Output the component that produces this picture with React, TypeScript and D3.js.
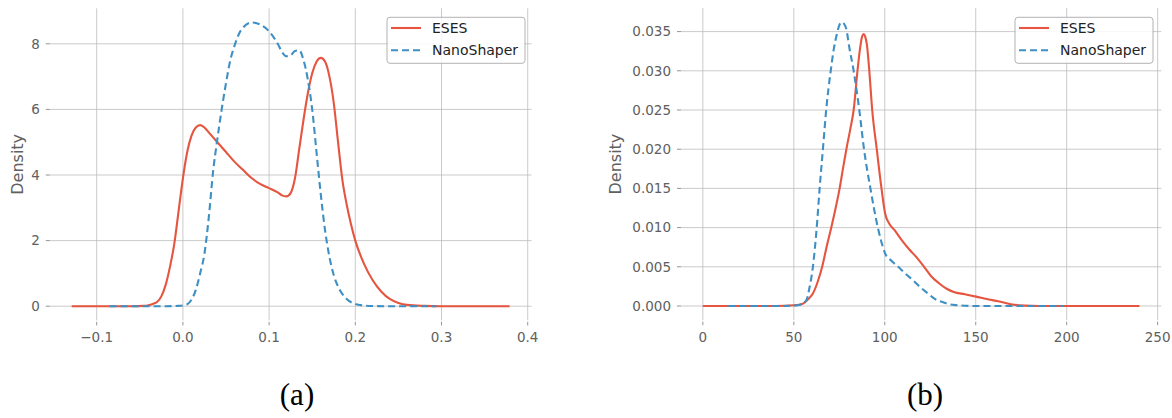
import React from "react";
import * as d3 from "d3";

const W = 1172;
const H = 418;

const seriesNames = ["ESES", "NanoShaper"];
const seriesColors = ["#E5553F", "#3E90C4"];
const seriesDash = [null, "7,4"];

// panel (a): curvature density
const aTicksX = [-0.1, 0, 0.1, 0.2, 0.3, 0.4];
const aTicksY = [0, 2, 4, 6, 8];
const aEsesX = [-0.129, -0.06, -0.045, -0.04, -0.035, -0.03, -0.025, -0.02, -0.015, -0.01, -0.005, 0, 0.005, 0.01, 0.015, 0.02, 0.025, 0.03, 0.04, 0.05, 0.06, 0.07, 0.08, 0.09, 0.1, 0.11, 0.115, 0.12, 0.125, 0.13, 0.135, 0.14, 0.145, 0.15, 0.155, 0.16, 0.165, 0.17, 0.175, 0.18, 0.185, 0.19, 0.195, 0.2, 0.21, 0.22, 0.23, 0.24, 0.25, 0.26, 0.28, 0.3, 0.379];
const aEsesY = [0, 0, 0.01, 0.03, 0.07, 0.13, 0.3, 0.65, 1.2, 1.9, 2.9, 3.9, 4.7, 5.2, 5.45, 5.52, 5.45, 5.3, 5.0, 4.7, 4.4, 4.15, 3.9, 3.72, 3.6, 3.47, 3.38, 3.35, 3.45, 3.9, 4.8, 5.7, 6.5, 7.1, 7.45, 7.57, 7.45, 7.0, 6.2, 5.0, 3.85, 3.1, 2.5, 2.0, 1.3, 0.8, 0.45, 0.22, 0.1, 0.04, 0.01, 0, 0];
const aNanoX = [-0.085, -0.05, -0.02, -0.005, 0.005, 0.01, 0.015, 0.02, 0.025, 0.03, 0.035, 0.04, 0.045, 0.05, 0.055, 0.06, 0.065, 0.07, 0.08, 0.09, 0.1, 0.11, 0.115, 0.12, 0.125, 0.13, 0.135, 0.14, 0.145, 0.15, 0.155, 0.16, 0.165, 0.17, 0.175, 0.18, 0.19, 0.2, 0.21, 0.22, 0.24, 0.294];
const aNanoY = [0, 0, 0, 0.01, 0.06, 0.2, 0.5, 1.0, 1.6, 2.7, 4.1, 5.1, 6.0, 6.8, 7.5, 7.95, 8.3, 8.5, 8.65, 8.58, 8.38, 8.0, 7.75, 7.62, 7.65, 7.78, 7.8, 7.5, 6.9, 6.0, 4.7, 3.4, 2.3, 1.5, 0.95, 0.6, 0.22, 0.07, 0.02, 0.005, 0, 0];

// panel (b): area density
const bTicksX = [0, 50, 100, 150, 200, 250];
const bTicksY = [0, 0.005, 0.01, 0.015, 0.02, 0.025, 0.03, 0.035];
const bEsesX = [0, 40, 50, 55, 58, 60.5, 63, 65.6, 68, 70.7, 73, 75.2, 77, 78.9, 81, 82.9, 85, 86.5, 87.6, 88.4, 89.2, 90.2, 91.5, 93.1, 95.6, 98.2, 100.2, 102.5, 105.3, 109, 113.5, 117.5, 121.6, 125.5, 129.8, 134, 137.9, 144, 150.2, 156, 162.4, 170, 177, 185, 240];
const bEsesY = [0, 0, 0.0001, 0.0003, 0.0009, 0.0016, 0.003, 0.005, 0.0075, 0.0101, 0.0125, 0.015, 0.0175, 0.02, 0.0225, 0.025, 0.03, 0.033, 0.0344, 0.0347, 0.0344, 0.0333, 0.03, 0.025, 0.02, 0.015, 0.0118, 0.0105, 0.0097, 0.0085, 0.0072, 0.0062, 0.005, 0.0038, 0.0029, 0.0022, 0.0018, 0.0015, 0.0012, 0.0009, 0.0006, 0.0002, 0.00005, 0, 0];
const bNanoX = [14, 40, 50, 54, 57, 58.5, 60.5, 62.6, 64.2, 66, 67.8, 70.3, 72, 73.8, 75, 76.4, 77.6, 78.9, 80.5, 82.9, 86, 88.6, 92.1, 96.2, 98, 100.2, 103.5, 107.4, 111.5, 115.5, 119.5, 123.7, 127.5, 131.8, 136, 140, 150, 198];
const bNanoY = [0, 0, 0.00005, 0.0002, 0.0008, 0.0022, 0.005, 0.01, 0.015, 0.02, 0.025, 0.03, 0.0328, 0.0348, 0.0358, 0.0362, 0.036, 0.0353, 0.033, 0.03, 0.025, 0.02, 0.015, 0.01, 0.0083, 0.0067, 0.0058, 0.005, 0.0041, 0.0033, 0.0024, 0.0016, 0.0009, 0.0005, 0.0002, 0.0001, 0, 0];

const zip = (xs: number[], ys: number[]) => xs.map((x, i) => [x, ys[i]] as [number, number]);

type PanelProps = {
  series: [number, number][][];
  xTicks: number[];
  yTicks: number[];
  fmtX: (v: number) => string;
  fmtY: (v: number) => string;
  xRange: [number, number];
  yRange: [number, number];
  legendX: number;
  caption: string;
  captionX: number;
  labelX: number;
};

// matplotlib style 5% margins
function padded(lo: number, hi: number): [number, number] {
  const m = (hi - lo) * 0.05;
  return [lo - m, hi + m];
}

function Panel(p: PanelProps) {
  const all = p.series.flat();
  const x = d3.scaleLinear().domain(padded(d3.min(all, d => d[0])!, d3.max(all, d => d[0])!)).range(p.xRange);
  const y = d3.scaleLinear().domain(padded(0, d3.max(all, d => d[1])!)).range(p.yRange);
  const line = d3.line<[number, number]>().x(d => x(d[0])).y(d => y(d[1])).curve(d3.curveMonotoneX);
  const [x0, x1] = p.xRange;
  const [yb, yt] = p.yRange;
  const grid = "#bdbdbd";
  const tickCol = "#606060";

  return (
    <g>
      {p.xTicks.map(t => (
        <g key={"x" + t}>
          <line x1={x(t)} x2={x(t)} y1={yt} y2={yb} stroke={grid} strokeWidth={0.8} />
          <line x1={x(t)} x2={x(t)} y1={yb + 1.5} y2={yb + 5} stroke="#777" strokeWidth={0.8} />
          <text x={x(t)} y={yb + 21.5} textAnchor="middle" fontSize={13.5} fill={tickCol}>{p.fmtX(t)}</text>
        </g>
      ))}
      {p.yTicks.map(t => (
        <g key={"y" + t}>
          <line x1={x0} x2={x1} y1={y(t)} y2={y(t)} stroke={grid} strokeWidth={0.8} />
          <line x1={x0 - 4} x2={x0} y1={y(t)} y2={y(t)} stroke="#777" strokeWidth={0.8} />
          <text x={x0 - 10} y={y(t)} dy="0.36em" textAnchor="end" fontSize={13.5} fill={tickCol}>{p.fmtY(t)}</text>
        </g>
      ))}
      <text transform={`translate(${p.labelX},${(yt + yb) / 2}) rotate(-90)`} textAnchor="middle" dominantBaseline="central" fontSize={16} fill={tickCol}>Density</text>
      {p.series.map((s, i) => (
        <path key={i} d={line(s) || ""} fill="none" stroke={seriesColors[i]} strokeWidth={2.1} strokeDasharray={seriesDash[i] || undefined} />
      ))}
      <g transform={`translate(${p.legendX},17.3)`}>
        <rect width={138} height={46} rx={3} fill="white" fillOpacity={0.85} stroke="#a0a0a0" strokeWidth={0.8} />
        {seriesNames.map((n, i) => (
          <g key={n} transform={`translate(0,${10.7 + i * 22.3})`}>
            <line x1={4} x2={34} stroke={seriesColors[i]} strokeWidth={2.1} strokeDasharray={seriesDash[i] || undefined} />
            <text x={45} dy="0.36em" fontSize={14} fill="#222">{n}</text>
          </g>
        ))}
      </g>
      <text x={p.captionX} y={405} textAnchor="middle" fontSize={31} fontFamily="'Liberation Serif', serif" fill="#000">{p.caption}</text>
    </g>
  );
}

export default function App() {
  const fmtA = (v: number) => (v < 0 ? "\u2212" : "") + Math.abs(v).toFixed(1);
  return (
    <svg width={W} height={H} style={{ position: "absolute", left: 0, top: 0, background: "white" }} fontFamily="'DejaVu Sans', sans-serif">
      <Panel
        series={[zip(aEsesX, aEsesY), zip(aNanoX, aNanoY)]}
        xTicks={aTicksX}
        yTicks={aTicksY}
        fmtX={fmtA}
        fmtY={v => String(v)}
        xRange={[49.8, 531.5]}
        yRange={[320.4, 8.3]}
        legendX={387}
        caption="(a)"
        captionX={297}
        labelX={17}
      />
      <Panel
        series={[zip(bEsesX, bEsesY), zip(bNanoX, bNanoY)]}
        xTicks={bTicksX}
        yTicks={bTicksY}
        fmtX={v => String(v)}
        fmtY={v => v.toFixed(3)}
        xRange={[681, 1161.3]}
        yRange={[320.2, 8]}
        legendX={1015}
        caption="(b)"
        captionX={925}
        labelX={615}
      />
    </svg>
  );
}
